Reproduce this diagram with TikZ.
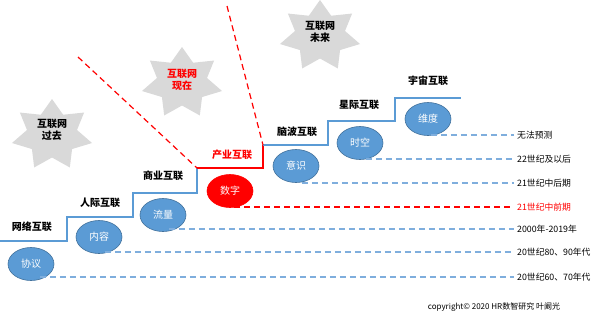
\documentclass[tikz,border=0pt]{standalone}
\usepackage{fontspec}
\setmainfont{Noto Sans CJK SC}
\usetikzlibrary{shapes.geometric}
\definecolor{stepblue}{HTML}{5B9BD5}
\definecolor{ellblue}{HTML}{5B9BD5}
\definecolor{ellline}{HTML}{41719C}
\definecolor{dashblue}{HTML}{7FAEDD}
\definecolor{stargray}{HTML}{D9D9D9}
\definecolor{pred}{HTML}{FF0000}
\tikzset{
  stepline/.style={stepblue, line width=1.4pt},
  redstep/.style={pred, line width=1.4pt},
  reddiag/.style={pred, line width=1.2pt, dash pattern=on 6pt off 4pt},
  timeline/.style={dashblue, line width=1.2pt, dash pattern=on 6pt off 4pt},
  redtime/.style={pred, line width=1.2pt, dash pattern=on 6pt off 4pt},
  starbg/.style={star, star points=7, star point ratio=1.6, minimum size=72pt, inner sep=0pt, fill=stargray, draw=none, xscale=1.14, transform shape},
  startext/.style={font=\fontsize{10}{11.5}\selectfont\bfseries, align=center, inner sep=0pt},
  steplabel/.style={font=\fontsize{10}{12}\selectfont\bfseries, inner sep=0pt},
  bubble/.style={ellipse, minimum width=46pt, minimum height=33pt, inner sep=0pt, fill=ellblue, draw=ellline, line width=0.6pt, text=white, font=\fontsize{10}{12}\selectfont},
  redbubble/.style={bubble, fill=pred, draw=pred},
  timelabel/.style={anchor=west, inner sep=3pt, font=\fontsize{8.8}{10}\selectfont}
}
\begin{document}
\begin{tikzpicture}[x=1pt,y=-1pt]
\useasboundingbox (0,0) rectangle (600,317);
\fill[white] (0,0) rectangle (600,317);

% stars
\node[starbg] (s1) at (52,135) {};
\node[startext] (t1) at (52,130) {互联网\\过去};
\node[starbg] (s2) at (182,83) {};
\node[startext, text=pred] (t2) at (182,80) {互联网\\现在};
\node[starbg] (s3) at (320,36) {};
\node[startext] (t3) at (320,32) {互联网\\未来};

% corners
\coordinate (c1) at (197,168);
\coordinate (c2) at (263,145);
\coordinate (d1) at (78,57);
\coordinate (d2) at (227,6);

% staircase
\draw[stepline] (0,241) -- (67,241) -- (67,217) -- (133,217) -- (133,193) -- (197,193) -- (c1);
\draw[redstep] (c1) -- (263,168) -- (c2);
\draw[stepline] (c2) -- (328,145) -- (328,121) -- (395,121) -- (395,98) -- (461,98);

% red dashed separators
\draw[reddiag] (d1) -- (c1);
\draw[reddiag] (d2) -- (c2);

% step labels
\node[steplabel] (l1) at (32,227) {网络互联};
\node[steplabel] (l2) at (100,203) {人际互联};
\node[steplabel] (l3) at (163,176) {商业互联};
\node[steplabel, text=pred] (l4) at (232,155) {产业互联};
\node[steplabel] (l5) at (297,132) {脑波互联};
\node[steplabel] (l6) at (359,105) {星际互联};
\node[steplabel] (l7) at (428,81) {宇宙互联};

% bubbles
\node[bubble] (e1) at (31,264) {协议};
\node[bubble] (e2) at (99,237) {内容};
\node[bubble] (e3) at (163,215) {流量};
\node[redbubble] (e4) at (230,191) {数字};
\node[bubble] (e5) at (296,166) {意识};
\node[bubble] (e6) at (360,143) {时空};
\node[bubble] (e7) at (428,119) {维度};

% time labels
\node[timelabel] (y7) at (514,135) {无法预测};
\node[timelabel] (y6) at (514,159) {22世纪及以后};
\node[timelabel] (y5) at (514,183) {21世纪中后期};
\node[timelabel, text=pred] (y4) at (514,207) {21世纪中前期};
\node[timelabel] (y3) at (514,229) {2000年-2019年};
\node[timelabel] (y2) at (514,252) {20世纪80、90年代};
\node[timelabel] (y1) at (514,277) {20世纪60、70年代};

% time lines
\draw[timeline] (y1.west -| e1.-60) -- (y1.west);
\draw[timeline] (y2.west -| e2.-70) -- (y2.west);
\draw[timeline] (y3.west -| e3.-70) -- (y3.west);
\draw[redtime] (y4.west -| e4.-75) -- (y4.west);
\draw[timeline] (y5.west -| e5.-70) -- (y5.west);
\draw[timeline] (y6.west -| e6.-70) -- (y6.west);
\draw[timeline] (y7.west -| e7.-80) -- (y7.west);

% copyright
\node[font=\fontsize{8}{9}\selectfont, inner sep=0pt] (cp) at (494,307) {copyright© 2020 HR数智研究 叶阚光};
\end{tikzpicture}
\end{document}
